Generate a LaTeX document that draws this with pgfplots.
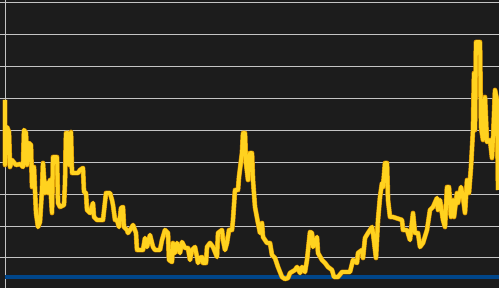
\documentclass[border=0pt]{standalone}
\usepackage{pgfplots}
\pgfplotsset{compat=1.18}
\definecolor{bgc}{HTML}{1C1C1C}
\definecolor{gridc}{HTML}{C4C4C4}
\definecolor{yel}{HTML}{FFD21F}
\definecolor{edge}{HTML}{D08A00}
\definecolor{blu}{HTML}{00468A}
\pgfplotstableread{
x y
5 100
5 165
7 127
9 132
10 167
12 160
16 165
20 164
23 167
24 130
26 133
27 165
29 143
31 145
32 187
34 167
36 213
38 227
40 222
42 190
43 163
45 193
47 183
48 193
50 180
52 213
53 157
57 157
58 203
60 207
64 205
65 183
66 133
68 133
69 165
71 132
72 173
78 173
80 170
83 168
84 192
86 193
87 210
90 213
93 203
94 217
97 220
103 220
106 193
110 193
112 200
113 205
115 220
117 220
119 227
121 208
123 207
124 227
127 230
128 233
132 227
133 225
136 233
137 250
143 250
145 238
147 247
150 235
153 247
155 250
160 250
162 240
165 230
168 233
169 260
172 262
173 243
175 253
177 243
180 253
182 242
185 248
188 248
190 260
192 250
195 247
197 257
198 263
200 258
202 257
203 263
206 263
207 247
210 243
213 247
217 257
218 233
222 230
223 240
225 250
227 243
229 230
232 230
233 220
235 190
238 190
239 177
242 153
243 133
245 133
246 163
248 180
250 153
252 153
253 180
255 207
258 223
260 233
262 223
263 237
267 243
270 243
272 255
275 258
278 267
282 277
285 279
288 278
290 273
295 270
297 267
300 273
302 267
305 272
307 260
310 232
312 233
313 247
317 237
318 253
322 260
325 263
328 267
332 270
334 277
338 277
342 272
350 272
353 260
357 263
358 253
362 250
363 258
365 238
368 233
370 230
372 227
373 233
376 258
378 220
380 197
382 183
383 187
385 163
387 163
388 200
390 217
393 217
402 220
403 230
407 230
410 240
413 213
415 233
418 233
420 247
423 243
427 230
430 210
433 207
437 198
438 210
440 200
443 220
445 227
447 187
449 187
451 217
453 200
454 217
457 193
458 203
461 187
463 197
465 213
467 180
469 193
471 167
473 130
474 73
475 130
476 42
480 42
481 127
483 140
485 97
487 142
490 140
492 158
493 140
495 90
497 100
498 190
}\mydata
\begin{document}
\begin{tikzpicture}
\begin{axis}[
  width=499pt, height=288pt, scale only axis,
  xmin=0, xmax=499, ymin=0, ymax=288, y dir=reverse,
  hide axis,
  clip=true,
]
\fill[bgc] (axis cs:0,0) rectangle (axis cs:499,288);
\foreach \g in {2.7,34.5,66.5,98.5,130.5,162.5,194.5,226.5,257.5} {
  \edef\temp{\noexpand\addplot[gridc, line width=0.8pt, forget plot] coordinates {(0,\g) (499,\g)};}
  \temp
}
\addplot[gridc, line width=0.8pt] coordinates {(5.3,0) (5.3,288)};
\addplot[blu, line width=4pt] coordinates {(5.3,276.7) (499,276.7)};
\addplot[edge, line width=4.8pt, line join=round] table[x=x,y=y] {\mydata};
\addplot[yel, line width=3.8pt, line join=round] table[x=x,y=y] {\mydata};
\end{axis}
\pgfresetboundingbox
\path (current axis.south west) rectangle (current axis.north east);
\end{tikzpicture}
\end{document}
